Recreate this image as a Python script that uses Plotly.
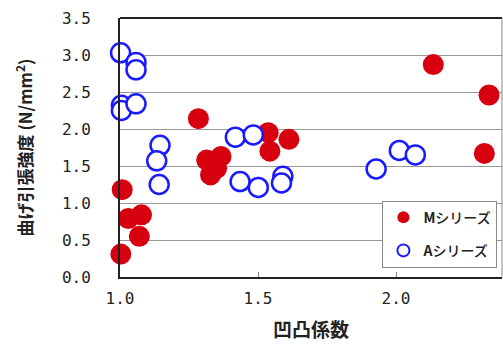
import plotly.graph_objects as go

m_x = [1.008, 1.03, 1.078, 1.07, 1.003, 1.284, 1.314, 1.366, 1.328, 1.35, 1.537, 1.543, 1.612, 2.135, 2.337, 2.32]
m_y = [1.18, 0.79, 0.84, 0.55, 0.31, 2.14, 1.58, 1.63, 1.38, 1.47, 1.95, 1.70, 1.86, 2.87, 2.46, 1.67]

a_x = [1.002, 1.058, 1.058, 1.005, 1.005, 1.058, 1.145, 1.133, 1.142, 1.418, 1.483, 1.435, 1.501, 1.59, 1.585, 1.928, 2.012, 2.07]
a_y = [3.03, 2.90, 2.80, 2.32, 2.25, 2.34, 1.78, 1.57, 1.25, 1.89, 1.92, 1.29, 1.21, 1.36, 1.27, 1.46, 1.71, 1.65]

font = "Noto Sans CJK JP"
mono = "DejaVu Sans Mono"

fig = go.Figure()
fig.add_trace(go.Scatter(x=m_x, y=m_y, mode="markers", name="<b>M</b>シリーズ", legendgroup="m",
                         marker=dict(size=21, color="#d7000f", line=dict(width=0)),
                         cliponaxis=False))
fig.add_trace(go.Scatter(x=a_x, y=a_y, mode="markers", name="<b>A</b>シリーズ", legendgroup="a",
                         marker=dict(size=19, color="white", line=dict(width=2.5, color="#1a1aff")),
                         cliponaxis=False))

fig.update_layout(
    width=503, height=351,
    margin=dict(l=120, r=1, t=18, b=74),
    plot_bgcolor="white", paper_bgcolor="white",
    font=dict(family=font, size=15, color="#222"),
    showlegend=True,
    legend=dict(x=0.988, y=0.295, xanchor="right", yanchor="top",
                bordercolor="#888", borderwidth=1, bgcolor="white",
                font=dict(size=14, color="#222", weight=500), itemsizing="constant",
                itemwidth=30, tracegroupgap=12),
    xaxis=dict(range=[1.0, 2.384], tickvals=[1.0, 1.5, 2.0], tickformat=".1f",
               tickfont=dict(family=mono, size=16),
               showgrid=False, zeroline=False, showline=True, linecolor="#222",
               linewidth=2, mirror=False, ticks="inside", ticklen=5, tickcolor="#888",
               ticklabelstandoff=6,
               title=dict(text="凹凸係数", font=dict(size=19, weight="bold"), standoff=16)),
    yaxis=dict(range=[0, 3.5], dtick=0.5, tickformat=".1f",
               tickfont=dict(family=mono, size=16),
               showgrid=True, gridcolor="#999", gridwidth=1, zeroline=False,
               showline=True, linecolor="#222", linewidth=2, ticks="",
               ticklabelstandoff=24,
               title=dict(text="曲げ引張強度 (N/mm<sup>2</sup>)", font=dict(size=17, weight="bold"), standoff=25)),
)
fig.add_shape(type="line", xref="paper", yref="paper", x0=0, x1=1, y0=1, y1=1,
              line=dict(color="#222", width=2))
fig.add_shape(type="line", xref="paper", yref="paper", x0=1, x1=1, y0=0, y1=1,
              line=dict(color="#888", width=1))

fig.write_html("out.html", config={"displayModeBar": False},
               post_script="document.body.style.margin='0';document.body.style.padding='0';")
